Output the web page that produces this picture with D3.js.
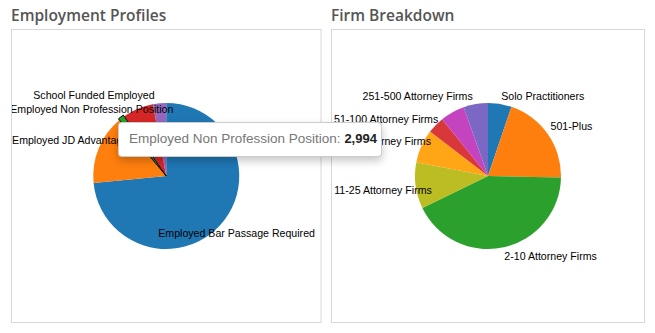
<!DOCTYPE html>
<html><head><meta charset="utf-8">
<script src="https://cdn.jsdelivr.net/npm/d3@7"></script>
<style>
html,body{margin:0;padding:0;background:#fff;}
body{width:655px;height:333px;overflow:hidden;position:relative;font-family:Arial,"Liberation Sans",sans-serif;}
.tip{position:absolute;box-sizing:border-box;background:#fff;border:1px solid rgba(0,0,0,0.2);border-radius:4px;
 box-shadow:0 4px 8px rgba(0,0,0,0.22);padding:0 10px;font-size:13.5px;line-height:31px;white-space:nowrap;color:#777;}
.tip b{color:#222;font-weight:bold;font-size:13px;}
</style></head><body>
<script>
// ---- data ----
const empCategories = ["Employed Bar Passage Required","Employed JD Advantage","Employed Non Profession Position","Employed Professional Position","School Funded Employed"];
const empValues = [169000, 35500, 2994, 15800, 6700];
const empColors = ["#1f77b4","#ff7f0e","#2ca02c","#d62728","#9467bd"];
const empHovered = "Employed Non Profession Position";

const firmCategories = ["Solo Practitioners","501-Plus","2-10 Attorney Firms","11-25 Attorney Firms","26-50 Attorney Firms","51-100 Attorney Firms","101-250 Attorney Firms","251-500 Attorney Firms"];
const firmValues = [1040, 4020, 8500, 2040, 1480, 760, 1080, 1080];
const firmColors = ["#1f77b4","#ff7f0e","#2ca02c","#bcbd22","#ffa516","#d9383a","#c444c0","#7b68c4"];

const titles = ["Employment Profiles","Firm Breakdown"];

// ---- label layout (presentation only) ----
const empLabelLayout = {
 "Employed Bar Passage Required": {anchor:"middle", dx:3, dy:0},
 "Employed JD Advantage": {anchor:"start", dx:-70, dy:2.6},
 "Employed Non Profession Position": {anchor:"end", dx:62.6, dy:8.9},
 "School Funded Employed": {anchor:"middle", dx:-64, dy:13.5}
};
const firmLabelLayout = {
 "Solo Practitioners": {anchor:"middle", dx:40, dy:13.3},
 "501-Plus": {anchor:"middle", dx:9, dy:6.8},
 "2-10 Attorney Firms": {anchor:"middle", dx:43, dy:-4.4},
 "11-25 Attorney Firms": {anchor:"end", dx:34, dy:5.8},
 "26-50 Attorney Firms": {anchor:"end", dx:26, dy:5.7},
 "51-100 Attorney Firms": {anchor:"end", dx:15.4, dy:10.7},
 "251-500 Attorney Firms": {anchor:"middle", dx:-55, dy:13.2}
};

const W = 655, H = 333;
const svg = d3.select("body").append("svg").attr("width", W).attr("height", H)
  .style("position","absolute").style("left","0px").style("top","0px");

const panels = [
  {x:11.5, y:29.5, w:309.5, h:293, title:titles[0], cats:empCategories, vals:empValues, cols:empColors, labels:empLabelLayout, hover:empHovered},
  {x:331.5, y:29.5, w:313, h:293, title:titles[1], cats:firmCategories, vals:firmValues, cols:firmColors, labels:firmLabelLayout, hover:null}
];

const R = 73, LR = 91;
panels.forEach(p => {
  svg.append("text").attr("x", p.x - 0.5).attr("y", 20.8)
    .attr("font-family", "'Open Sans', sans-serif").attr("font-weight", 600).attr("font-size", 15.5)
    .attr("fill", "#555").text(p.title);
  svg.append("rect").attr("x", p.x).attr("y", p.y).attr("width", p.w).attr("height", p.h)
    .attr("fill", "#fff").attr("stroke", "#d8d8d8").attr("stroke-width", 1);

  const inner = svg.append("svg").attr("x", p.x + 0.5).attr("y", p.y + 0.5)
    .attr("width", p.w - 1).attr("height", p.h - 1);
  const g = inner.append("g").attr("transform", `translate(${(p.w - 1) / 2},${(p.h - 1) / 2})`);

  const data = p.cats.map((c, i) => ({name: c, value: p.vals[i], color: p.cols[i]}));
  const pie = d3.pie().sort(null).value(d => d.value);
  const arcs = pie(data);
  const arc = d3.arc().innerRadius(0).outerRadius(R);
  const arcHover = d3.arc().innerRadius(0).outerRadius(R + 1.5);
  const labelArc = d3.arc().innerRadius(LR).outerRadius(LR);

  g.selectAll("path.slice").data(arcs).enter().append("path")
    .attr("class", "slice")
    .attr("d", d => d.data.name === p.hover ? arcHover(d) : arc(d))
    .attr("fill", d => d.data.color)
    .attr("stroke", d => d.data.name === p.hover ? "#000" : "none")
    .attr("stroke-width", 1)
    .attr("stroke-linejoin", "round");
  g.selectAll("path.slice").filter(d => d.data.name === p.hover).raise();

  g.selectAll("text.lbl").data(arcs.filter(d => p.labels[d.data.name])).enter().append("text")
    .attr("class", "lbl")
    .attr("transform", d => {
      const c = labelArc.centroid(d), L = p.labels[d.data.name];
      return `translate(${c[0] + L.dx},${c[1] + L.dy})`;
    })
    .attr("text-anchor", d => p.labels[d.data.name].anchor)
    .attr("font-family", "Arial, 'Liberation Sans', sans-serif")
    .attr("font-size", 10.6).attr("fill", "#000")
    .text(d => d.data.name);
});

// tooltip for hovered slice
const hi = empCategories.indexOf(empHovered);
const tip = d3.select("body").append("div").attr("class", "tip")
  .style("left", "118px").style("top", "122px").style("width", "264px").style("height", "35px");
tip.append("span").text(empCategories[hi] + ": ");
tip.append("b").text(d3.format(",")(empValues[hi]));
</script>
</body></html>
